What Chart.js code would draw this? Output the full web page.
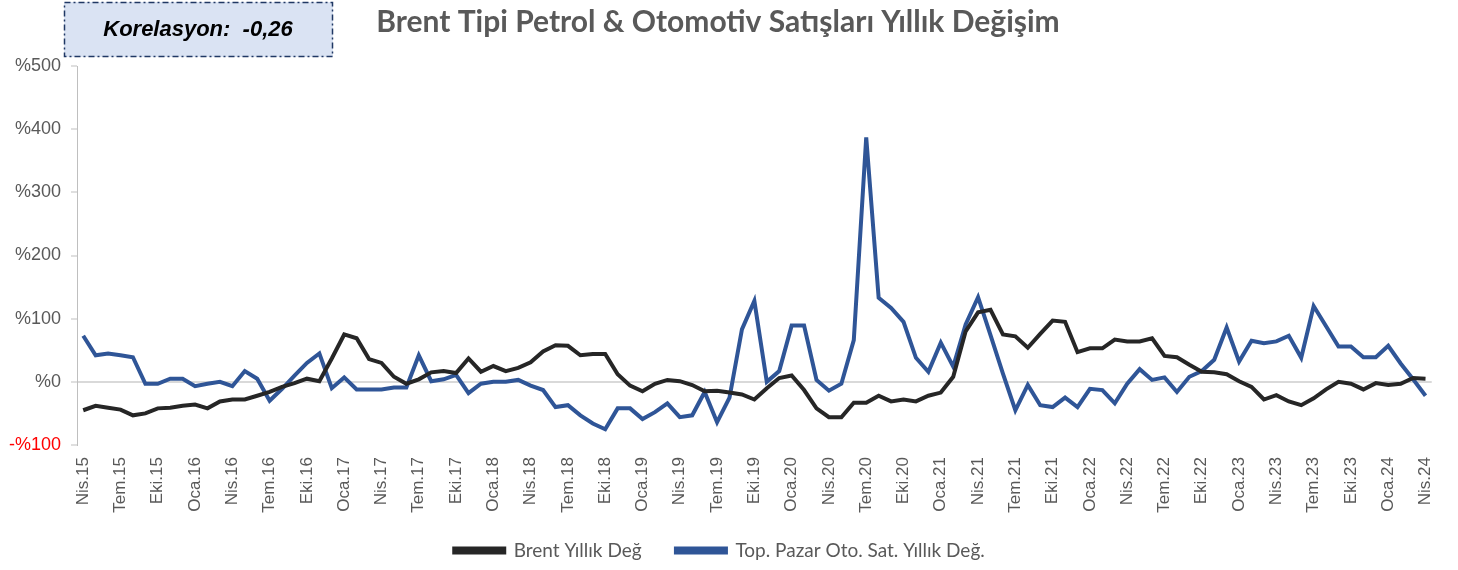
<!DOCTYPE html>
<html>
<head>
<meta charset="utf-8">
<script src="https://cdn.jsdelivr.net/npm/chart.js@4.4.1/dist/chart.umd.min.js"></script>
<style>
  body { margin: 0; background: #fff; }
  canvas { display: block; }
</style>
</head>
<body>
<canvas id="chart" width="1458" height="570"></canvas>
<script>
// aylık seri: Nis.15 - Nis.24
const months = ['Oca', 'Şub', 'Mar', 'Nis', 'May', 'Haz', 'Tem', 'Ağu', 'Eyl', 'Eki', 'Kas', 'Ara']
const labels = []
for (let y = 2015, m = 3; y < 2024 || (y === 2024 && m <= 3); m++) {
  if (m === 12) { m = 0; y++ }
  labels.push(months[m] + '.' + String(y).slice(2))
}

const brent = [
  -45, -38, -41, -44, -53, -50, -42, -41, -38, -36, -42, -31,
  -28, -28, -22, -16, -8, -2, 5, 1, 37, 75, 69, 36,
  30, 8, -3, 4, 15, 17, 14, 37, 16, 25, 17, 22,
  31, 48, 58, 57, 42, 44, 44, 12, -6, -15, -3, 3,
  1, -5, -15, -14, -17, -20, -28, -10, 6, 10, -13, -42,
  -56, -56, -33, -33, -22, -31, -28, -31, -22, -17, 8, 80,
  110, 114, 75, 72, 54, 76, 97, 95, 47, 53, 53, 67,
  64, 64, 69, 41, 39, 27, 16, 15, 12, 1, -8, -28,
  -21, -31, -37, -26, -12, 0, -3, -12, -2, -5, -3, 6,
  5
]

const otomotiv = [
  73, 42, 45, 42, 39, -3, -3, 5, 5, -7, -3, 0,
  -7, 17, 5, -30, -11, 10, 30, 45, -10, 7, -12, -12,
  -12, -9, -9, 42, 1, 4, 11, -18, -3, 0, 0, 3,
  -6, -13, -40, -37, -53, -66, -75, -42, -42, -59, -48, -34,
  -56, -53, -16, -64, -25, 83, 128, 0, 17, 89, 89, 3,
  -14, -3, 66, 387, 133, 117, 95, 38, 16, 62, 24, 91,
  134, 74, 13, -45, -5, -37, -40, -25, -40, -11, -13, -34,
  -3, 20, 3, 7, -16, 8, 17, 35, 86, 32, 65, 61,
  64, 73, 38, 120, 88, 56, 56, 39, 39, 57, 29, 4,
  -22
]

const yTicks = [-100, 0, 100, 200, 300, 400, 500]
const korelasyon = '-0,26'

const grey = '#595959'

// başlık ve korelasyon kutusu
const decor = {
  id: 'decor',
  afterDraw(chart) {
    const c = chart.ctx
    c.save()
    c.font = 'bold 30px Lato'
    c.fillStyle = grey
    c.textAlign = 'center'
    c.textBaseline = 'middle'
    c.fillText('Brent Tipi Petrol & Otomotiv Satışları Yıllık Değişim', 718, 22)

    c.fillStyle = '#dae3f3'
    c.fillRect(64, 2, 269, 55)
    c.setLineDash([6, 3, 2, 3])
    c.lineWidth = 1.5
    c.strokeStyle = '#203864'
    c.strokeRect(64.5, 2.5, 268, 54)
    c.setLineDash([])
    c.fillStyle = '#000'
    c.font = 'italic bold 22px "Liberation Sans"'
    c.fillText('Korelasyon:  ' + korelasyon, 198, 30)
    c.restore()
  }
}

new Chart(document.getElementById('chart'), {
  type: 'line',
  data: {
    labels: labels,
    datasets: [
      {
        label: 'Brent Yıllık Değ',
        data: brent,
        borderColor: '#262626',
        backgroundColor: '#262626',
        borderWidth: 4,
        pointRadius: 0,
        tension: 0
      },
      {
        label: 'Top. Pazar Oto. Sat. Yıllık Değ.',
        data: otomotiv,
        borderColor: '#2f5597',
        backgroundColor: '#2f5597',
        borderWidth: 4,
        pointRadius: 0,
        tension: 0
      }
    ]
  },
  options: {
    responsive: false,
    animation: false,
    layout: { padding: { top: 66, right: 19, left: 0, bottom: 0 } },
    plugins: {
      title: { display: false },
      tooltip: { enabled: false },
      legend: {
        position: 'bottom',
        labels: {
          boxWidth: 50,
          boxHeight: 4,
          padding: 10,
          color: grey,
          font: { family: 'Lato', size: 19 },
          // ilk öğeden sonra biraz daha boşluk
          generateLabels(chart) {
            const items = Chart.defaults.plugins.legend.labels.generateLabels(chart)
            items[0].text += '     '
            return items
          }
        }
      }
    },
    scales: {
      x: {
        offset: true,
        grid: { display: false, drawTicks: false },
        border: { display: false },
        afterFit(s) { s.height = 86 },
        ticks: {
          autoSkip: false,
          minRotation: 90,
          maxRotation: 90,
          padding: 12,
          color: grey,
          font: { family: 'Liberation Sans', size: 17 },
          callback(v, i) { return i % 3 === 0 ? labels[i] : null }
        }
      },
      y: {
        min: -100,
        max: 500,
        afterFit(s) { s.width = 77 },
        afterBuildTicks(s) { s.ticks = yTicks.map(v => ({ value: v })) },
        border: { display: true, color: '#bfbfbf', width: 1 },
        grid: {
          color: ctx => ctx.tick && ctx.tick.value === 0 ? '#d9d9d9' : 'rgba(0,0,0,0)',
          lineWidth: 2,
          tickColor: '#bfbfbf',
          tickLength: 6,
          tickWidth: 1
        },
        ticks: {
          padding: 10,
          color: ctx => ctx.tick.value < 0 ? '#ff0000' : grey,
          font: { family: 'Liberation Sans', size: 18 },
          callback(v) { return v < 0 ? '-%' + Math.abs(v) : '%' + v }
        }
      }
    }
  },
  plugins: [decor]
})
</script>
</body>
</html>
